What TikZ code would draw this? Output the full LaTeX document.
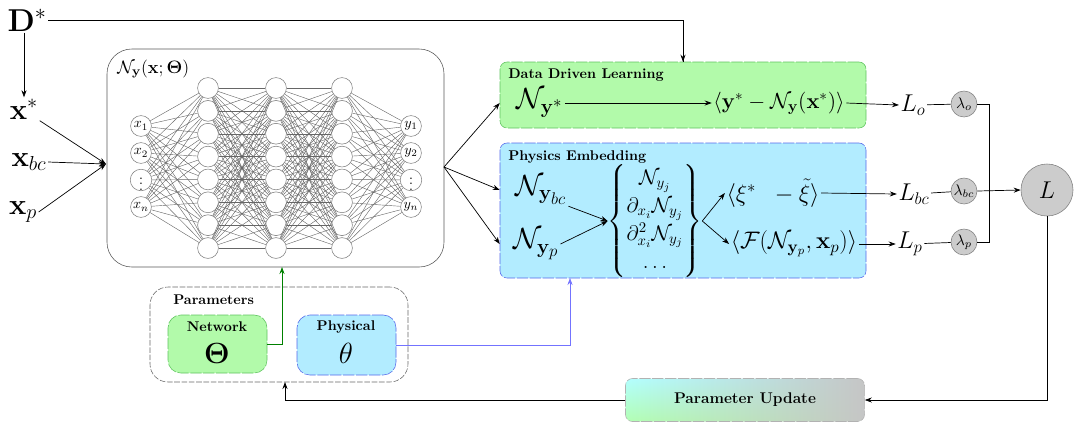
\documentclass[tikz,border=0pt]{standalone}
\usepackage{fix-cm}
\usepackage{amsmath}
\usepackage{amssymb}
\usepackage{bm}
\usetikzlibrary{arrows.meta,fit,shadings}

\definecolor{ddlgreen}{RGB}{178,250,170}
\definecolor{ddlline}{RGB}{95,195,95}
\definecolor{pecyan}{RGB}{178,236,255}
\definecolor{peline}{RGB}{85,105,235}

\begin{document}
\begin{tikzpicture}[x=0.025cm,y=-0.025cm,
  neuron/.style={circle,draw=gray,fill=white,minimum size=0.52cm,inner sep=0pt,font=\normalsize},
  link/.style={black!60,line width=0.3pt},
  weight/.style={circle,draw=gray,fill=gray!40,minimum size=0.65cm,inner sep=0pt,font=\fontsize{11}{13}\selectfont},
  arr/.style={line width=0.5pt,-{Stealth[length=5pt,width=3.6pt]}},
  con/.style={line width=0.5pt},
  boxtitle/.style={font=\bfseries,anchor=west,inner sep=0pt},
  greenbox/.style={fill=ddlgreen,draw=ddlline,dash pattern=on 8pt off 1.2pt,rounded corners=5pt,inner sep=0pt},
  cyanbox/.style={fill=pecyan,draw=peline,dash pattern=on 8pt off 1.2pt,rounded corners=5pt,inner sep=0pt}
]
\useasboundingbox (0,0) rectangle (1077,424);

% inputs
\node[inner sep=1pt,anchor=base west] (dstar) at (6,31) {\fontsize{22.5}{26}\selectfont $\mathbf{D}^*$};
\node[inner sep=1pt] (xstar) at (24,109) {\huge $\mathbf{x}^*$};
\node[inner sep=1pt] (xbc) at (29,162) {\huge $\mathbf{x}_{bc}$};
\node[inner sep=1pt] (xp) at (23,212) {\huge $\mathbf{x}_p$};
\coordinate (nnin) at (106,164);
\coordinate (nnout) at (444,167);

% network
\node[fit={(107,49) (444,267)},inner sep=0pt,draw=gray!70!black,rounded corners=0.62cm] (nn) {};
\node[anchor=west,inner sep=0pt] (nntitle) at (117,69) {\fontsize{12.8}{15}\selectfont $\mathcal{N}_{\mathbf{y}}(\mathbf{x};\boldsymbol{\Theta})$};

\foreach \lab [count=\i] in {x_1,x_2,\vdots,x_n}
  \node[neuron] (in\i) at (141,99+27*\i) {$\lab$};
\foreach \lab [count=\i] in {y_1,y_2,\vdots,y_n}
  \node[neuron] (out\i) at (411,99+27*\i) {$\lab$};
\foreach \l/\xx in {1/208,2/276,3/342}
  \foreach \i in {1,...,8}
    \node[neuron] (h\l-\i) at (\xx,88+22.86*\i-22.86) {};

\foreach \i in {1,...,4}
  \foreach \j in {1,...,8}
    \draw[link] (in\i) -- (h1-\j)
                (h3-\j) -- (out\i);
\foreach \i in {1,...,8}
  \foreach \j in {1,...,8}
    \draw[link] (h1-\i) -- (h2-\j)
                (h2-\i) -- (h3-\j);

% data driven learning
\node[fit={(500,62) (866,128)},greenbox] (ddl) {};
\node[boxtitle] (ddltitle) at (508,75) {Data Driven Learning};
\node[inner sep=1pt] (nystar) at (540,103) {\huge $\mathcal{N}_{\mathbf{y}^*}$};
\node[inner sep=1pt] (ddlerr) at (779,103) {\fontsize{15.5}{18}\selectfont $\langle \mathbf{y}^* - \mathcal{N}_{\mathbf{y}}(\mathbf{x}^*)\rangle$};

% physics embedding
\node[fit={(500,143) (866,278)},cyanbox] (pe) {};
\node[boxtitle] (petitle) at (508,157) {Physics Embedding};
\node[inner sep=1pt] (nybc) at (541,190) {\huge $\mathcal{N}_{\mathbf{y}_{bc}}$};
\node[inner sep=1pt] (nyp) at (536,244) {\huge $\mathcal{N}_{\mathbf{y}_{p}}$};
\node[inner sep=0pt] (derivs) at (655,221) {\fontsize{15}{18}\selectfont $\renewcommand{\arraystretch}{1.1}\begin{Bmatrix} \mathcal{N}_{y_j} \\ \partial_{x_i}\mathcal{N}_{y_j} \\ \partial^2_{x_i}\mathcal{N}_{y_j} \\ \dots \end{Bmatrix}$};
\node[inner sep=1pt] (bcerr) at (773,193) {\fontsize{17}{20}\selectfont $\langle \xi^* \;\; - \tilde{\xi}\rangle$};
\node[inner sep=1pt] (perr) at (794,244) {\fontsize{17}{20}\selectfont $\langle \mathcal{F}(\mathcal{N}_{\mathbf{y}_p},\mathbf{x}_p)\rangle$};

% losses
\node[inner sep=1pt] (lo) at (913,105) {\LARGE $L_o$};
\node[inner sep=1pt] (lbc) at (914,194) {\LARGE $L_{bc}$};
\node[inner sep=1pt] (lp) at (910,244) {\LARGE $L_p$};
\node[weight] (wo) at (964,104) {$\lambda_o$};
\node[weight] (wbc) at (964,191) {$\lambda_{bc}$};
\node[weight] (wp) at (964,242) {$\lambda_p$};
\node[circle,draw=gray,fill=gray!40,minimum size=1.3cm,inner sep=0pt] (ltot) at (1047,190) {\LARGE $L$};
\coordinate (bus) at (989,170);

% parameters
\node[fit={(150,287) (408,382)},inner sep=0pt,draw=gray!80!black,dash pattern=on 4pt off 1.2pt,rounded corners=0.45cm] (params) {};
\node[boxtitle] (partitle) at (173,300) {Parameters};
\node[fit={(168,315) (267,373)},greenbox,rounded corners=0.32cm] (netbox) {};
\node[inner sep=0pt,font=\bfseries] (nettitle) at (217,327) {Network};
\node[inner sep=0pt] (netsym) at (217,353) {\huge $\boldsymbol{\Theta}$};
\node[fit={(297,315) (396,375)},cyanbox,rounded corners=0.32cm] (physbox) {};
\node[inner sep=0pt,font=\bfseries] (phystitle) at (346,327) {Physical};
\node[inner sep=0pt] (physsym) at (346,353) {\huge $\theta$};
\coordinate (gtap) at (282,267);
\coordinate (btap) at (570,278);
\coordinate (utap) at (285,382);

% update
\node[minimum width=5.975cm,minimum height=1.075cm,rounded corners=5pt,draw=gray!60,dash pattern=on 8pt off 1.2pt,
  upper left=cyan!30,lower left=green!30,upper right=gray!45,lower right=gray!45,font=\fontsize{11}{13}\selectfont\bfseries] (upd) at (745,400) {Parameter Update};

% connectors
\draw[con] (dstar.east) -| (ddl.north);
\draw[arr] (ddl.north |- 0,40) -- (ddl.north);
\draw[arr] (dstar.south -| xstar.north) -- (xstar.north);
\draw[arr] (xstar.south east) -- (nnin);
\draw[arr] (xbc.east) -- (nnin);
\draw[arr] (xp.east) -- (nnin);
\draw[arr] (nnout) -- (ddl.west |- nystar);
\draw[arr] (nnout) -- (pe.west |- nybc);
\draw[arr] (nnout) -- (pe.west |- nyp);
\draw[arr] (nystar) -- (ddlerr);
\draw[arr] (nybc.south east) -- (derivs.west);
\draw[arr] (nyp.east) -- (derivs.west);
\draw[arr] (derivs.east) -- (bcerr.west);
\draw[arr] (derivs.east) -- (perr.west);
\draw[arr] (ddlerr.east) -- (lo.west);
\draw[arr] (bcerr.east) -- (lbc.west);
\draw[arr] (perr.east) -- (lp.west);
\draw[con] (lo) -- (wo);
\draw[con] (lbc) -- (wbc);
\draw[con] (lp) -- (wp);
\draw[con] (wo.east) -| (bus) |- (wp.east);
\draw[arr] (wbc.east) -- (ltot.west);
\draw[arr] (ltot.south) |- (upd.east);
\draw[arr] (upd.west) -| (utap);
\draw[arr,green!50!black] (netbox.east) -| (gtap);
\draw[arr,blue!55,line width=0.4pt] (physbox.east) -| (btap);
\end{tikzpicture}
\end{document}
